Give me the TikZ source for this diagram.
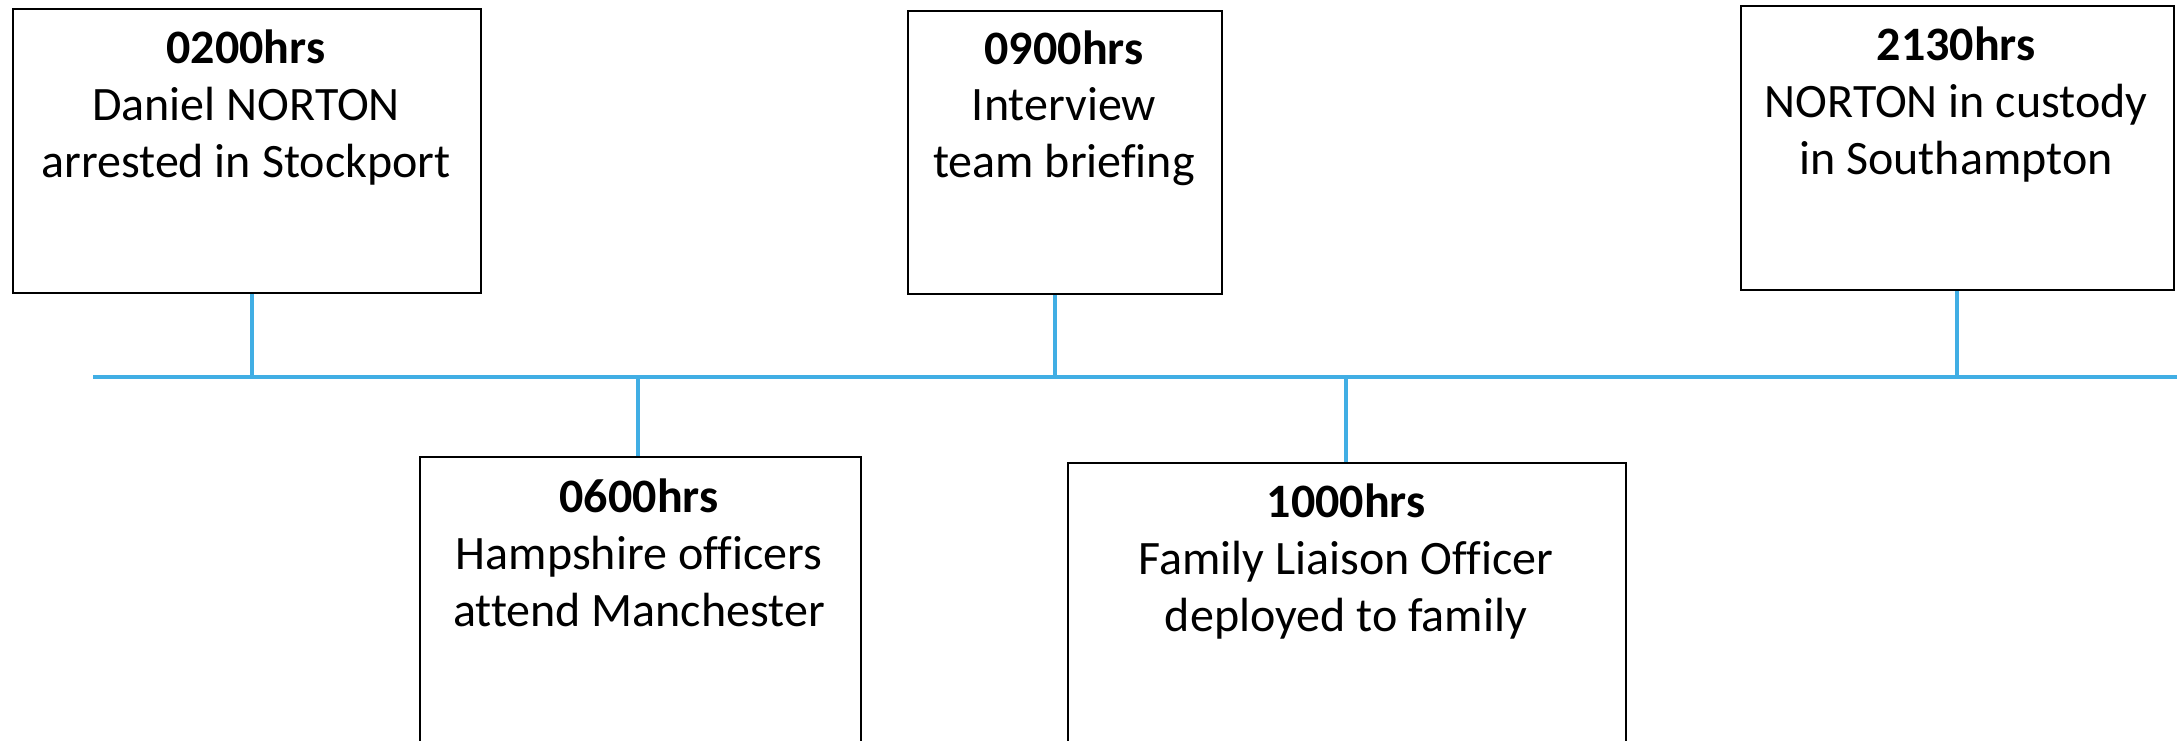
\documentclass[tikz,border=0pt]{standalone}
\usepackage{fontspec}
\setmainfont{Carlito}[Ligatures={NoCommon}]
\definecolor{tlblue}{RGB}{65,174,228}
\begin{document}
\begin{tikzpicture}[x=1pt,y=-1pt,
  evbox/.style={draw=black,line width=2.4pt,fill=none,inner sep=0pt,anchor=north west},
  evtext/.style={align=center,anchor=base,inner sep=0pt,font=\fontsize{48}{57}\selectfont},
  tl/.style={draw=tlblue,line width=3.6pt},
  tick/.style={draw=tlblue,line width=3.2pt}]
\clip (0,0) rectangle (2177,741);
% boxes
\node[evbox,minimum width=468pt,minimum height=284pt] (b1) at (12,8) {};
\node[evbox,minimum width=314pt,minimum height=283pt] (b3) at (907,10) {};
\node[evbox,minimum width=433pt,minimum height=284pt] (b5) at (1740,5) {};
\node[evbox,minimum width=441pt,minimum height=330pt] (b2) at (419,456) {};
\node[evbox,minimum width=558pt,minimum height=330pt] (b4) at (1067,462) {};
% texts (anchor = baseline of last line)
\node[evtext] (t1) at (246,177) {\textbf{0200hrs}\\Daniel NORTON\\arrested in Stockport};
\node[evtext] (t3) at (1064,178) {\textbf{0900hrs}\\Interview\\team briefing};
\node[evtext] (t5) at (1956,175) {\textbf{2130hrs}\\NORTON in custody\\in Southampton};
\node[evtext] (t2) at (639,626) {\textbf{0600hrs}\\Hampshire officers\\attend Manchester};
\node[evtext] (t4) at (1346,631) {\textbf{1000hrs}\\Family Liaison Officer\\deployed to family};
% timeline
\coordinate (tlL) at (93,377);
\coordinate (tlR) at (2180,377);
\coordinate (c1) at (252,377);
\coordinate (c2) at (638,377);
\coordinate (c3) at (1055,377);
\coordinate (c4) at (1346,377);
\coordinate (c5) at (1957,377);
\draw[tl] (tlL) -- (tlR);
\draw[tick] (c1) -- (c1 |- b1.south);
\draw[tick] (c3) -- (c3 |- b3.south);
\draw[tick] (c5) -- (c5 |- b5.south);
\draw[tick] (c2) -- (c2 |- b2.north);
\draw[tick] (c4) -- (c4 |- b4.north);
\end{tikzpicture}
\end{document}
